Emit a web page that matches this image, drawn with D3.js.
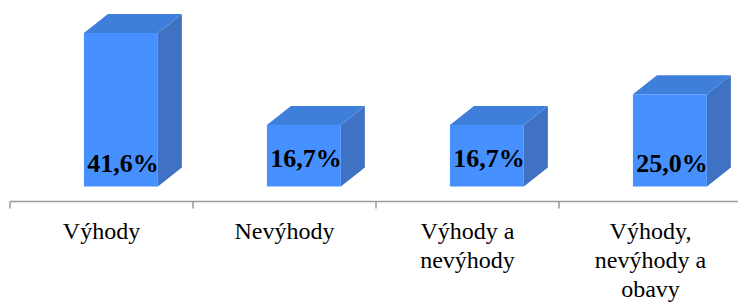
<!DOCTYPE html>
<html><head><meta charset="utf-8">
<script src="https://cdn.jsdelivr.net/npm/d3@7"></script>
<style>html,body{margin:0;padding:0;background:#fff;font-family:Tinos,'Liberation Serif','Times New Roman',serif;}
#wrap{position:relative;width:738px;height:302px;overflow:hidden;}
svg{position:absolute;left:0;top:0;display:block;}
.lbl{position:absolute;font-family:inherit;color:#000;text-align:center;white-space:nowrap;}
</style>
</head><body>
<div id="wrap"><svg id="chart" width="738" height="302"></svg></div>
<script>
const categories = [["Výhody"], ["Nevýhody"], ["Výhody a", "nevýhody"], ["Výhody,", "nevýhody a", "obavy"]];
const values = [41.6, 16.7, 16.7, 25.0];
const valueLabels = ["41,6%", "16,7%", "16,7%", "25,0%"];

const wrap = d3.select("#wrap");
const svg = d3.select("#chart");
const keys = categories.map((c, i) => i);
const x = d3.scaleBand().domain(keys).range([10, 742]).padding(0);
const y = d3.scaleLinear().domain([0, 41.6]).range([186.5, 33]);
const bw = x.bandwidth();
const dx = 24, dy = 19;
const frontOff = 0.404 * bw, frontW = 0.404 * bw;

const g = svg.append("g");
keys.forEach(i => {
  const x0 = x(i) + frontOff, x1 = x0 + frontW;
  const yt = y(values[i]), yb = y(0);
  g.append("path").attr("d", `M${x1},${yt}L${x1+dx},${yt-dy}L${x1+dx},${yb-dy}L${x1},${yb}Z`).attr("fill", "#3F72C2");
  g.append("path").attr("d", `M${x0},${yt}L${x0+dx},${yt-dy}L${x1+dx},${yt-dy}L${x1},${yt}Z`).attr("fill", "#3E7FDB");
  g.append("rect").attr("x", x0).attr("y", yt).attr("width", frontW).attr("height", yb - yt).attr("fill", "#4690FF");
  const h = yb - yt;
  const baseline = h > 80 ? yb - 13.5 : yb - 18.5;
  wrap.append("div").attr("class", "lbl")
    .style("left", (x0 + 2 - 40) + "px").style("width", (frontW + 80) + "px")
    .style("top", (baseline - 21.8) + "px")
    .style("font-size", "26px").style("line-height", "26px").style("font-weight", "bold")
    .text(valueLabels[i]);
});

const axisY = 201.5;
const ax = svg.append("g").attr("transform", `translate(0,${axisY})`);
ax.append("line").attr("x1", 10).attr("x2", 738).attr("y1", 0).attr("y2", 0).attr("stroke", "#9a9a9a").attr("stroke-width", 1.5);
keys.concat([4]).forEach(i => {
  const tx = i < 4 ? x(i) : x(3) + bw;
  ax.append("line").attr("x1", tx).attr("x2", tx).attr("y1", 0).attr("y2", 7).attr("stroke", "#9a9a9a").attr("stroke-width", 1.5);
});
keys.forEach(i => {
  const d = wrap.append("div").attr("class", "lbl")
    .style("left", x(i) + "px").style("width", bw + "px")
    .style("top", (axisY + 38 - 22.6) + "px")
    .style("font-size", "24px").style("line-height", "29px");
  categories[i].forEach((line, j) => {
    if (j) d.append("br");
    d.append("span").text(line);
  });
});
</script>
</body></html>
